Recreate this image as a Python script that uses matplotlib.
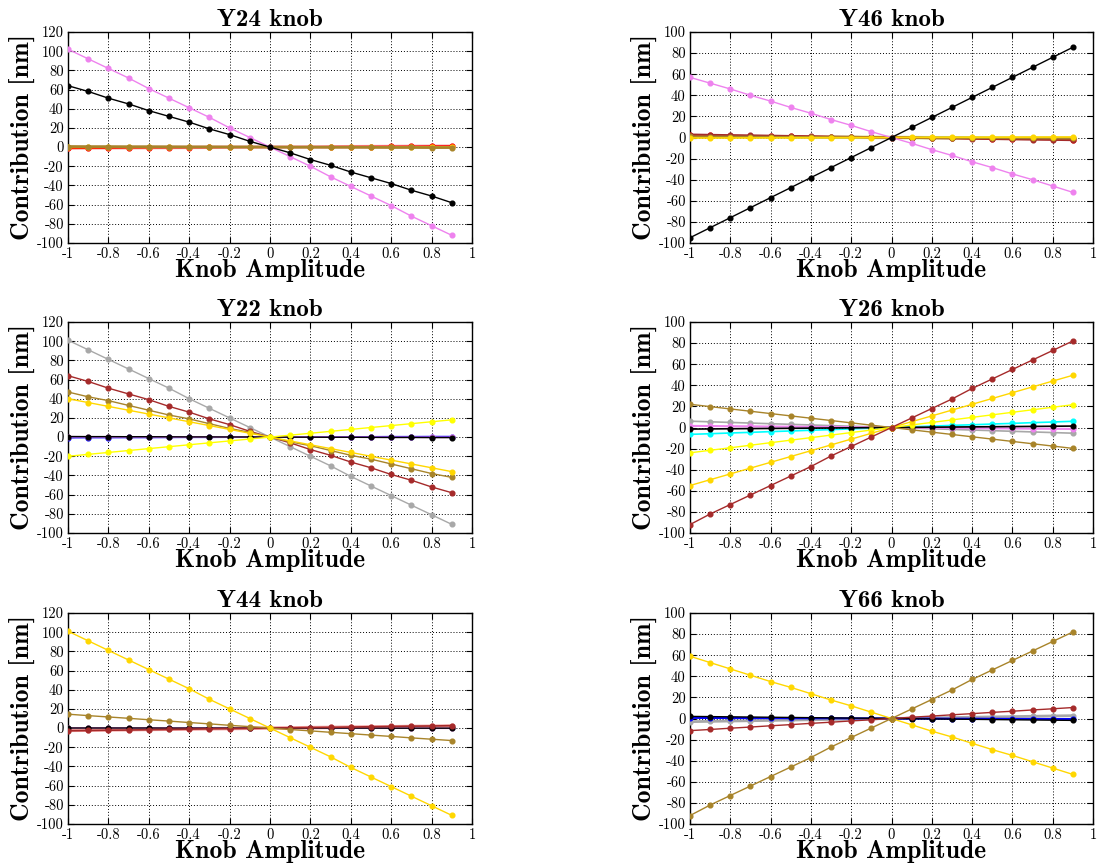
import matplotlib
matplotlib.use("Agg")
import matplotlib.pyplot as plt
from matplotlib.ticker import MultipleLocator, FuncFormatter

plt.rcParams['font.family'] = 'cmr10'
plt.rcParams['axes.unicode_minus'] = False
plt.rcParams['axes.formatter.use_mathtext'] = True

# knob amplitude scan
amp = [-1.0, -0.9, -0.8, -0.7, -0.6, -0.5, -0.4, -0.3, -0.2, -0.1,
       0.0, 0.1, 0.2, 0.3, 0.4, 0.5, 0.6, 0.7, 0.8, 0.9]

# line colours (one per contribution)
C_RED = '#ff0000'
C_SALMON = '#f4a0a0'
C_VIOLET = '#ee82ee'
C_BLACK = '#000000'
C_BROWN = '#a52a2a'
C_DGOLD = '#a8842a'
C_GOLD = '#ffd700'
C_YELLOW = '#ffff00'
C_GRAY = '#a8a8a8'
C_CYAN = '#00ffff'
C_BLUE = '#0000ff'
C_GREEN = '#66cdaa'
C_LIME = '#c8d870'

# --- Y24 knob ---
y24_violet = [102, 92, 82, 72, 61, 51, 41, 31, 20, 10, 0, -10, -20, -31, -41, -51, -61, -72, -82, -92]
y24_black = [64, 58, 51, 45, 38, 32, 26, 19, 13, 6, 0, -6, -13, -19, -26, -32, -38, -45, -51, -58]
y24_salmon = [-0.9, -0.8, -0.7, -0.6, -0.5, -0.4, -0.3, -0.2, -0.1, -0.1, 0, 0.1, 0.2, 0.3, 0.4, 0.5, 0.6, 0.7, 0.8, 0.9]
y24_red = [-1.2, -1.1, -1.0, -0.8, -0.7, -0.6, -0.5, -0.4, -0.2, -0.1, 0, 0.1, 0.2, 0.4, 0.5, 0.6, 0.7, 0.8, 1.0, 1.1]
y24_gold = [-0.3, -0.3, -0.2, -0.2, -0.2, -0.1, -0.1, -0.1, 0.0, 0.0, 0, 0.0, 0.0, 0.1, 0.1, 0.1, 0.2, 0.2, 0.2, 0.3]
y24_dgold = [0.6, 0.5, 0.5, 0.4, 0.4, 0.3, 0.2, 0.2, 0.1, 0.1, 0, -0.1, -0.1, -0.2, -0.2, -0.3, -0.4, -0.4, -0.5, -0.5]

# --- Y46 knob ---
y46_black = [-95, -85.5, -76, -66.5, -57, -47.5, -38, -28.5, -19, -9.5, 0, 9.5, 19, 28.5, 38, 47.5, 57, 66.5, 76, 85.5]
y46_violet = [57, 51.5, 46, 40, 34.5, 28.5, 23, 17, 11.5, 5.5, 0, -5.5, -11.5, -17, -23, -28.5, -34.5, -40, -46, -52]
y46_lime = [0.8, 0.7, 0.6, 0.5, 0.5, 0.4, 0.3, 0.2, 0.2, 0.1, 0, -0.1, -0.2, -0.2, -0.3, -0.4, -0.5, -0.5, -0.6, -0.7]
y46_red = [2.2, 2.0, 1.8, 1.5, 1.3, 1.1, 0.9, 0.7, 0.4, 0.2, 0, -0.2, -0.4, -0.7, -0.9, -1.1, -1.3, -1.5, -1.8, -2.0]
y46_brown = [2.8, 2.5, 2.2, 2.0, 1.7, 1.4, 1.1, 0.8, 0.6, 0.3, 0, -0.3, -0.6, -0.8, -1.1, -1.4, -1.7, -2.0, -2.2, -2.5]
y46_dgold = [1.0, 0.9, 0.8, 0.7, 0.6, 0.5, 0.4, 0.3, 0.2, 0.1, 0, -0.1, -0.2, -0.3, -0.4, -0.5, -0.6, -0.7, -0.8, -0.9]
y46_gold = [-0.5, -0.45, -0.4, -0.35, -0.3, -0.25, -0.2, -0.15, -0.1, -0.05, 0, 0.05, 0.1, 0.15, 0.2, 0.25, 0.3, 0.35, 0.4, 0.45]

# --- Y22 knob ---
y22_gray = [101, 91, 81, 71, 61, 51, 40, 30, 20, 10, 0, -10, -20, -30, -41, -51, -61, -71, -81, -91]
y22_brown = [64, 58, 51, 45, 39, 32, 26, 19, 13, 6, 0, -6, -13, -19, -26, -32, -39, -45, -52, -58]
y22_dgold = [47, 42, 38, 33, 28, 23, 19, 14, 9, 5, 0, -5, -9, -14, -19, -23, -28, -33, -38, -42]
y22_gold = [40, 36, 32, 28, 24, 20, 16, 12, 8, 4, 0, -4, -8, -12, -16, -20, -24, -28, -32, -36]
y22_yellow = [-20, -18, -16, -14, -12, -10, -8, -6, -4, -2, 0, 2, 4, 6, 8, 10, 12, 14, 16, 18]
y22_blue = [-0.6, -0.5, -0.5, -0.4, -0.4, -0.3, -0.2, -0.2, -0.1, -0.1, 0, 0.1, 0.1, 0.2, 0.2, 0.3, 0.4, 0.4, 0.5, 0.5]
y22_violet = [0.3, 0.3, 0.2, 0.2, 0.2, 0.1, 0.1, 0.1, 0.0, 0.0, 0, 0.0, 0.0, -0.1, -0.1, -0.1, -0.2, -0.2, -0.2, -0.3]
y22_black = [0.6, 0.5, 0.5, 0.4, 0.4, 0.3, 0.2, 0.2, 0.1, 0.1, 0, -0.1, -0.1, -0.2, -0.2, -0.3, -0.4, -0.4, -0.5, -0.5]

# --- Y26 knob ---
y26_brown = [-92, -82, -73, -64, -55, -46, -37, -27, -18, -9, 0, 9, 18, 27, 37, 46, 55, 64, 73, 82]
y26_gold = [-55, -49.5, -44, -38.5, -33, -27.5, -22, -16.5, -11, -5.5, 0, 5.5, 11, 16.5, 22, 27.5, 33, 38.5, 44, 49.5]
y26_yellow = [-24, -21.6, -19.2, -16.8, -14.4, -12, -9.6, -7.2, -4.8, -2.4, 0, 2.4, 4.8, 7.2, 9.6, 12, 14.4, 16.8, 19.2, 21.6]
y26_dgold = [22, 19.8, 17.6, 15.4, 13.2, 11, 8.8, 6.6, 4.4, 2.2, 0, -2.2, -4.4, -6.6, -8.8, -11, -13.2, -15.4, -17.6, -19.8]
y26_gray = [6, 5.4, 4.8, 4.2, 3.6, 3, 2.4, 1.8, 1.2, 0.6, 0, -0.6, -1.2, -1.8, -2.4, -3, -3.6, -4.2, -4.8, -5.4]
y26_cyan = [-6.5, -5.9, -5.2, -4.6, -3.9, -3.3, -2.6, -2.0, -1.3, -0.7, 0, 0.7, 1.3, 2.0, 2.6, 3.3, 3.9, 4.6, 5.2, 5.9]
y26_violet = [1.5, 1.4, 1.2, 1.1, 0.9, 0.8, 0.6, 0.5, 0.3, 0.2, 0, -0.2, -0.3, -0.5, -0.6, -0.8, -0.9, -1.1, -1.2, -1.4]
y26_black = [-1.5, -1.35, -1.2, -1.05, -0.9, -0.75, -0.6, -0.45, -0.3, -0.15, 0, 0.15, 0.3, 0.45, 0.6, 0.75, 0.9, 1.05, 1.2, 1.35]

# --- Y44 knob ---
y44_gold = [101, 91, 81, 71, 61, 51, 41, 30, 20, 10, 0, -10, -20, -30, -41, -51, -61, -71, -81, -91]
y44_dgold = [14.5, 13, 11.6, 10.2, 8.7, 7.3, 5.8, 4.4, 2.9, 1.5, 0, -1.5, -2.9, -4.4, -5.8, -7.3, -8.7, -10.2, -11.6, -13]
y44_green = [-1.0, -0.9, -0.8, -0.7, -0.6, -0.5, -0.4, -0.3, -0.2, -0.1, 0, 0.1, 0.2, 0.3, 0.4, 0.5, 0.6, 0.7, 0.8, 0.9]
y44_salmon = [-2.4, -2.2, -1.9, -1.7, -1.4, -1.2, -1.0, -0.7, -0.5, -0.2, 0, 0.2, 0.5, 0.7, 1.0, 1.2, 1.4, 1.7, 1.9, 2.2]
y44_brown = [-2.8, -2.5, -2.2, -2.0, -1.7, -1.4, -1.1, -0.8, -0.6, -0.3, 0, 0.3, 0.6, 0.8, 1.1, 1.4, 1.7, 2.0, 2.2, 2.5]
y44_violet = [0.2, 0.2, 0.2, 0.1, 0.1, 0.1, 0.1, 0.1, 0.0, 0.0, 0, 0.0, 0.0, -0.1, -0.1, -0.1, -0.1, -0.1, -0.2, -0.2]
y44_black = [0.1, 0.1, 0.1, 0.1, 0.1, 0.0, 0.0, 0.0, 0.0, 0.0, 0, 0.0, 0.0, 0.0, 0.0, 0.0, -0.1, -0.1, -0.1, -0.1]

# --- Y66 knob ---
y66_dgold = [-92, -82, -73, -64, -55, -46, -37, -27, -18, -9, 0, 9, 18, 27, 37, 46, 55, 64, 73, 82]
y66_gold = [59, 53, 47, 41, 35, 29.5, 23.5, 17.5, 12, 6, 0, -6, -12, -17.5, -23.5, -29.5, -35, -41, -47, -53]
y66_brown = [-11.5, -10.4, -9.2, -8.1, -6.9, -5.8, -4.6, -3.5, -2.3, -1.2, 0, 1.2, 2.3, 3.5, 4.6, 5.8, 6.9, 8.1, 9.2, 10.4]
y66_gray = [-3.0, -2.7, -2.4, -2.1, -1.8, -1.5, -1.2, -0.9, -0.6, -0.3, 0, 0.3, 0.6, 0.9, 1.2, 1.5, 1.8, 2.1, 2.4, 2.7]
y66_blue = [0.6, 0.5, 0.5, 0.4, 0.4, 0.3, 0.2, 0.2, 0.1, 0.1, 0, -0.1, -0.1, -0.2, -0.2, -0.3, -0.4, -0.4, -0.5, -0.5]
y66_black = [2.0, 1.8, 1.6, 1.4, 1.2, 1.0, 0.8, 0.6, 0.4, 0.2, 0, -0.2, -0.4, -0.6, -0.8, -1.0, -1.2, -1.4, -1.6, -1.8]

panels = [
    ('Y24 knob', 120, [(y24_salmon, C_SALMON, 2.5), (y24_red, C_RED, 1.2), (y24_gold, C_GOLD, 1.2),
                       (y24_dgold, C_DGOLD, 2.0), (y24_violet, C_VIOLET, 1.0), (y24_black, C_BLACK, 1.0)]),
    ('Y46 knob', 100, [(y46_lime, C_LIME, 2.5), (y46_red, C_RED, 1.2), (y46_brown, C_BROWN, 1.5),
                       (y46_dgold, C_DGOLD, 1.5), (y46_gold, C_GOLD, 1.2),
                       (y46_violet, C_VIOLET, 1.0), (y46_black, C_BLACK, 1.0)]),
    ('Y22 knob', 120, [(y22_blue, C_BLUE, 1.2), (y22_violet, C_VIOLET, 1.2), (y22_black, C_BLACK, 1.0),
                       (y22_gray, C_GRAY, 1.0), (y22_brown, C_BROWN, 1.0), (y22_dgold, C_DGOLD, 1.0),
                       (y22_gold, C_GOLD, 1.0), (y22_yellow, C_YELLOW, 1.0)]),
    ('Y26 knob', 100, [(y26_gray, C_GRAY, 1.2), (y26_cyan, C_CYAN, 1.2), (y26_violet, C_VIOLET, 1.5),
                       (y26_black, C_BLACK, 1.2), (y26_dgold, C_DGOLD, 1.0), (y26_yellow, C_YELLOW, 1.0),
                       (y26_gold, C_GOLD, 1.0), (y26_brown, C_BROWN, 1.0)]),
    ('Y44 knob', 120, [(y44_green, C_GREEN, 1.2), (y44_salmon, C_SALMON, 2.5), (y44_violet, C_VIOLET, 1.2),
                       (y44_black, C_BLACK, 1.0), (y44_brown, C_BROWN, 1.2), (y44_dgold, C_DGOLD, 1.0),
                       (y44_gold, C_GOLD, 1.0)]),
    ('Y66 knob', 100, [(y66_gray, C_GRAY, 2.0), (y66_blue, C_BLUE, 1.5), (y66_black, C_BLACK, 1.0),
                       (y66_brown, C_BROWN, 1.0), (y66_gold, C_GOLD, 1.0), (y66_dgold, C_DGOLD, 1.0)]),
]

W, H = 1099, 868
fig = plt.figure(figsize=(W / 100, H / 100), dpi=100)

# axes boxes in pixels: (left, right) per column, (top, bottom) per row
cols = [(68, 472), (690, 1093)]
rows = [(32, 243), (322, 533), (613, 824)]


def tick_fmt(v, pos):
    return '%g' % round(v, 6)


for i, (title, ytop, series) in enumerate(panels):
    (x0, x1), (t0, b0) = cols[i % 2], rows[i // 2]
    ax = fig.add_axes([x0 / W, 1 - b0 / H, (x1 - x0) / W, (b0 - t0) / H])
    for vals, col, lw in series:
        ax.plot(amp, vals, color=col, lw=lw, marker='o', ms=3.4, mec=col, mfc=col, zorder=3)

    ax.set_xlim(-1, 1)
    ax.set_ylim(-100, ytop)
    ax.xaxis.set_major_locator(MultipleLocator(0.2))
    ax.yaxis.set_major_locator(MultipleLocator(20))
    ax.xaxis.set_major_formatter(FuncFormatter(tick_fmt))
    ax.yaxis.set_major_formatter(FuncFormatter(tick_fmt))
    ax.tick_params(direction='in', top=True, right=True, length=4, width=0.8,
                   labelsize=10.5, pad=3, colors='black')
    ax.grid(True, color='black', linestyle=(0, (1, 2)), linewidth=0.7)
    ax.set_axisbelow(True)
    for sp in ax.spines.values():
        sp.set_linewidth(1.0)

    ax.set_title(title, fontfamily='cmb10', fontsize=18, pad=4)
    ax.set_xlabel('Knob Amplitude', fontfamily='cmb10', fontsize=18.5, labelpad=-1)
    ax.set_ylabel('Contribution [nm]', fontfamily='cmb10', fontsize=18.5, labelpad=1)

fig.savefig('out.png', dpi=100)
